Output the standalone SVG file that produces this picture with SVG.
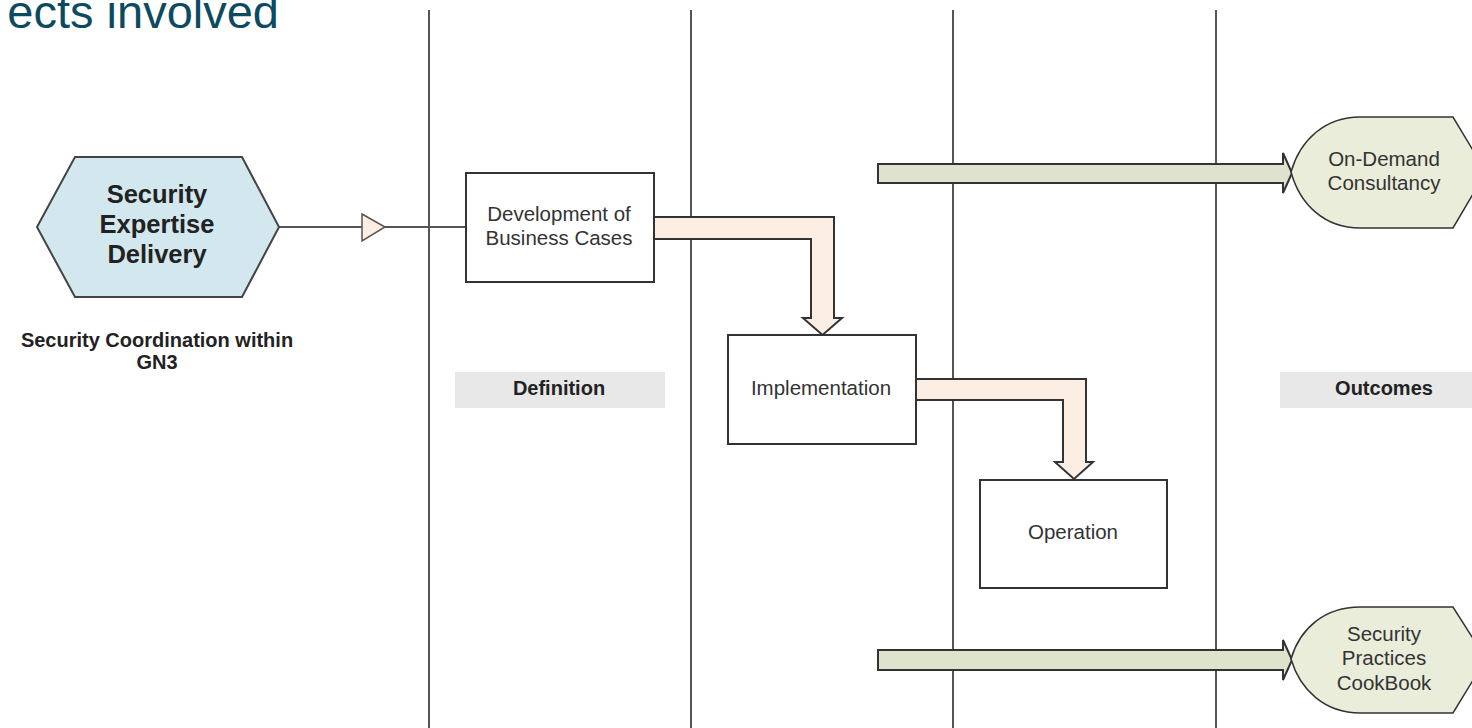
<svg xmlns="http://www.w3.org/2000/svg" width="1472" height="728" viewBox="0 0 1472 728">
<style>
.lane{stroke:#555;stroke-width:2;fill:none}
.box{fill:#fff;stroke:#333;stroke-width:2}
.txt{font-family:"Liberation Sans",Arial,sans-serif;font-size:20.5px;fill:#333;text-anchor:middle}
.bold{font-family:"Liberation Sans",Arial,sans-serif;font-weight:bold;fill:#222;text-anchor:middle}
.flow{fill:#fdeee3;stroke:#333;stroke-width:2;stroke-linejoin:miter}
.green{fill:#dde3cc;stroke:#333;stroke-width:2}
.outcome{fill:#e9edda;stroke:#333;stroke-width:1.5}
.label{fill:#e8e8e8}
</style>
<rect width="1472" height="728" fill="#fff"/>
<text x="279" y="28" font-family="'Liberation Sans',Arial,sans-serif" font-size="47" fill="#0d4a5f" text-anchor="end">ects involved</text>
<g id="lanes">
<line class="lane" x1="429" y1="10" x2="429" y2="728"/>
<line class="lane" x1="691" y1="10" x2="691" y2="728"/>
<line class="lane" x1="953" y1="10" x2="953" y2="728"/>
<line class="lane" x1="1216" y1="10" x2="1216" y2="728"/>
</g>
<g id="label-definition">
<rect class="label" x="455" y="372" width="210" height="36"/>
<text class="bold" x="559" y="395" font-size="20">Definition</text>
</g>
<g id="label-outcomes">
<rect class="label" x="1280" y="372" width="192" height="36"/>
<text class="bold" x="1384" y="395" font-size="20">Outcomes</text>
</g>
<g id="connectors">
<line x1="279" y1="227" x2="466" y2="227" stroke="#555" stroke-width="2"/>
<polygon points="362,214 385,227 362,241" fill="#fdeee3" stroke="#555" stroke-width="1.5"/>
<path class="flow" d="M654,217 H834 V318 H842 L822.5,335 L803,318 H811 V239 H654 Z"/>
<path class="flow" d="M916,379 H1086 V462 H1093 L1074,479 L1055,462 H1063 V400 H916 Z"/>
<path class="green" d="M878,164 H1283 V153 L1292,173 L1283,193 V183 H878 Z"/>
<path class="green" d="M878,650 H1283 V640 L1292,660 L1283,680 V670 H878 Z"/>
</g>
<g id="node-security-expertise">
<polygon points="37,227 75,157 242,157 279,227 242,297 75,297" fill="#d3e8ee" stroke="#444" stroke-width="2"/>
<text class="bold" x="157" y="203" font-size="25.5">Security</text>
<text class="bold" x="157" y="233" font-size="25.5">Expertise</text>
<text class="bold" x="157" y="263" font-size="25.5">Delivery</text>
</g>
<g id="node-caption">
<text class="bold" x="157" y="347" font-size="20">Security Coordination within</text>
<text class="bold" x="157" y="369" font-size="20">GN3</text>
</g>
<g id="node-development">
<rect class="box" x="466" y="173" width="188" height="109"/>
<text class="txt" x="559" y="221">Development of</text>
<text class="txt" x="559" y="245">Business Cases</text>
</g>
<g id="node-implementation">
<rect class="box" x="728" y="335" width="188" height="109"/>
<text class="txt" x="821" y="395">Implementation</text>
</g>
<g id="node-operation">
<rect class="box" x="980" y="480" width="187" height="108"/>
<text class="txt" x="1073" y="539">Operation</text>
</g>
<g id="node-on-demand">
<path class="outcome" d="M1291,172 C1300,140 1325,117 1360,117 H1453 L1486,172 L1453,228 H1360 C1325,228 1300,205 1291,172 Z"/>
<text class="txt" x="1384" y="166">On-Demand</text>
<text class="txt" x="1384" y="190">Consultancy</text>
</g>
<g id="node-cookbook">
<path class="outcome" d="M1291,659 C1300,628 1325,607 1360,607 H1453 L1486,659 L1453,713 H1360 C1325,713 1300,690 1291,659 Z"/>
<text class="txt" x="1384" y="641">Security</text>
<text class="txt" x="1384" y="665">Practices</text>
<text class="txt" x="1384" y="690">CookBook</text>
</g>
</svg>
